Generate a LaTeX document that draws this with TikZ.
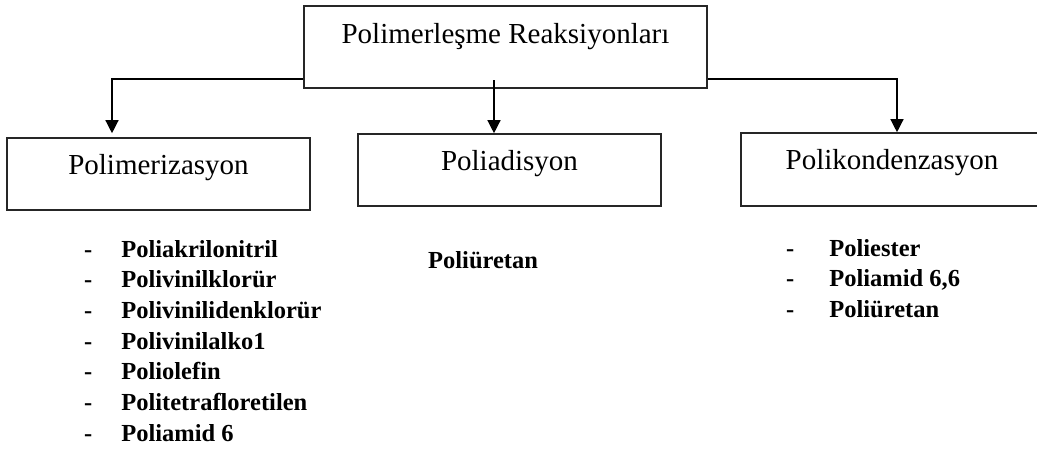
\documentclass[tikz,border=0pt]{standalone}
\usepackage{fontspec}
\setmainfont{Liberation Serif}
\usetikzlibrary{arrows.meta}

\tikzset{
	typebox/.style={draw=black!85, line width=1.6pt, fill=white,
		minimum width=303pt, minimum height=72pt, inner sep=0pt,
		font=\fontsize{29}{34}\selectfont, text height=20pt, text depth=20pt},
	conn/.style={draw=black, line width=1.3pt,
		-{Triangle[length=13pt,width=13pt]}},
	itemlist/.style={anchor=base west, inner sep=0pt,
		font=\fontsize{24.5}{30.7}\selectfont\bfseries}
}

\begin{document}
\begin{tikzpicture}[x=1pt,y=-1pt]
\useasboundingbox (0,0) rectangle (1037,450);

	%reaction type boxes
\node[typebox] (pmz) at (158.5,174) {Polimerizasyon};
\node[typebox] (pad) at (509.5,170) {Poliadisyon};
\node[typebox, minimum width=312pt, minimum height=73pt] (pkd) at (897,169.5) {\hspace*{-10pt}Polikondenzasyon};

	%branch line
\coordinate (hl) at (112,79);
\coordinate (hr) at (897,79);
\draw[conn] (hr) -- (hl) -- ([yshift=4pt]pmz.north -| hl);
\draw[conn] (hl) -- (hr) -- (pkd.north -| hr);

	%main box
\node[typebox, minimum width=403pt, minimum height=82pt,
	text height=21pt, text depth=29pt] (main) at (505.5,47) {Polimerleşme Reaksiyonları};
\coordinate (mc) at (494,80);
\draw[conn] (mc) -- (pad.north -| mc);

	%examples
\node[itemlist] (pmzlist) at (84,257) {\begin{tabular}[t]{@{}l@{\hspace{29pt}}l@{}}
	- & Poliakrilonitril\\
	- & Polivinilklorür\\
	- & Polivinilidenklorür\\
	- & Polivinilalko1\\
	- & Poliolefin\\
	- & Politetrafloretilen\\
	- & Poliamid 6
\end{tabular}};

\node[itemlist] (padlist) at (428,268) {Poliüretan};

\node[itemlist] (pkdlist) at (786,256) {\begin{tabular}[t]{@{}l@{\hspace{35pt}}l@{}}
	- & Poliester\\
	- & Poliamid 6,6\\
	- & Poliüretan
\end{tabular}};

\end{tikzpicture}
\end{document}
